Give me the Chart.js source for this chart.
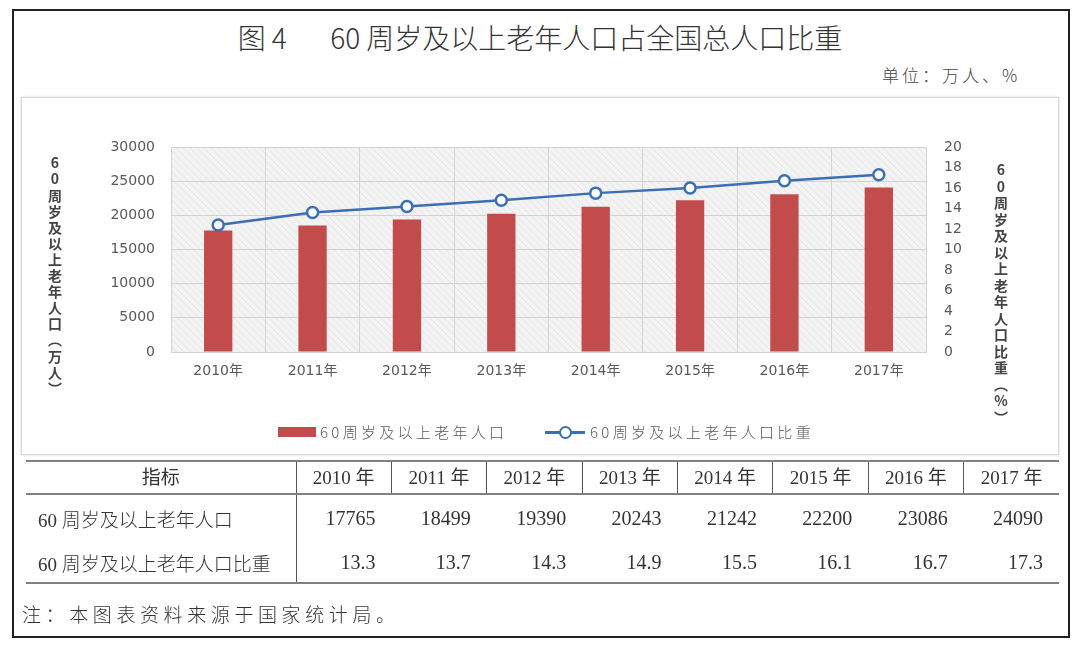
<!DOCTYPE html>
<html>
<head>
<meta charset="utf-8">
<script src="https://cdn.jsdelivr.net/npm/chart.js@4/dist/chart.umd.min.js"></script>
<style>
  html, body { margin:0; padding:0; background:#fff; }
  body { width:1080px; height:649px; position:relative; overflow:hidden;
         font-family:"Noto Sans CJK SC","DejaVu Sans",sans-serif; color:#333; }
  .abs { position:absolute; }
  #frame { left:12px; top:9px; width:1054px; height:625px; border:2px solid #222; }
  #panel { left:21px; top:97px; width:1036px; height:356px; border:1px solid #d6d6d6;
           box-shadow:0 0 3px rgba(0,0,0,0.12); background:#fff; }
  #chartBox { left:0; top:0; width:1080px; height:649px; }
  #title { left:0; top:17px; width:1080px; text-align:center; font-size:28px; font-weight:300; color:#333; white-space:pre; }
  #unit { left:882px; top:62px; font-size:17px; letter-spacing:3px; color:#444; font-weight:300; }
  .vtitle { writing-mode:vertical-rl; text-orientation:upright; font-size:14px; font-weight:bold;
            color:#444; line-height:14px; }
  #ltitle { left:48px; top:156px; letter-spacing:2.1px; }
  #rtitle { left:994px; top:163px; letter-spacing:2.5px; }
  .leg { font-size:15px; letter-spacing:3.3px; color:#595959; top:421px; white-space:nowrap; font-weight:300; }
  #legBox { left:278px; top:427px; width:38px; height:10px; background:#c24b4b; }
  #legLine { left:545px; top:431px; width:40px; height:2.5px; background:#3a6fb5; }
  #legDot { left:559px; top:426px; width:9px; height:9px; border:2px solid #3a6fb5; border-radius:50%; background:#fff; }
  table { border-collapse:collapse; table-layout:fixed; }
  #tbl { left:26px; top:460px; width:1033px; font-size:20px; color:#333;
         font-family:"Liberation Serif","Noto Sans CJK SC",serif; }
  #tbl td { padding:0; white-space:nowrap; }
  #tbl tr.h td { height:26px; padding-bottom:4px; border-top:2px solid #808080; border-bottom:2px solid #808080;
                 border-left:1px solid #555; text-align:center; font-size:19px; }
  #tbl tr.h td:first-child { border-left:none; font-family:"Noto Sans CJK SC",sans-serif; }
  #tbl tr.r1 td { height:47px; padding-bottom:4px; vertical-align:middle; }
  #tbl tr.r2 td { height:32px; padding-bottom:4px; border-bottom:2px solid #808080; vertical-align:middle; }
  #tbl td.lab { text-align:left; padding-left:12px; border-right:1px solid #555; font-size:19px; font-weight:300; }
  #tbl td.num { text-align:right; padding-right:16px; }
  #note { left:22px; top:600px; font-size:19px; letter-spacing:4.6px; color:#333; font-weight:300; }
</style>
</head>
<body>
<div id="frame" class="abs"></div>
<div id="panel" class="abs"></div>
<div id="title" class="abs">图 4       60 周岁及以上老年人口占全国总人口比重</div>
<div id="unit" class="abs">单位：万人、%</div>
<div id="chartBox" class="abs"><canvas id="c"></canvas></div>
<div id="ltitle" class="abs vtitle"></div>
<div id="rtitle" class="abs vtitle"></div>
<div id="legBox" class="abs"></div>
<div id="leg1" class="abs leg" style="left:320px"></div>
<div id="legLine" class="abs"></div>
<div id="legDot" class="abs"></div>
<div id="leg2" class="abs leg" style="left:590px"></div>
<table id="tbl" class="abs"></table>
<div id="note" class="abs">注：本图表资料来源于国家统计局。</div>
<script>
// ---- data ----
const categories = ['2010年','2011年','2012年','2013年','2014年','2015年','2016年','2017年'];
const tableYears = ['2010 年','2011 年','2012 年','2013 年','2014 年','2015 年','2016 年','2017 年'];
const population = [17765, 18499, 19390, 20243, 21242, 22200, 23086, 24090];
const shareLine = [12.4, 13.6, 14.2, 14.8, 15.5, 16.0, 16.7, 17.3];
const shareTable = ['13.3','13.7','14.3','14.9','15.5','16.1','16.7','17.3'];
const seriesNames = ['60周岁及以上老年人口', '60周岁及以上老年人口比重'];
const tableRowNames = ['60 周岁及以上老年人口', '60 周岁及以上老年人口比重'];
const leftAxisTitle = '60周岁及以上老年人口（万人）';
const rightAxisTitle = '60周岁及以上老年人口比重（%）';

document.getElementById('ltitle').textContent = leftAxisTitle;
document.getElementById('rtitle').textContent = rightAxisTitle;
document.getElementById('leg1').textContent = seriesNames[0];
document.getElementById('leg2').textContent = seriesNames[1];

// table
(function(){
  const t = document.getElementById('tbl');
  let html = '<colgroup><col style="width:270px">' + tableYears.map(()=>'<col>').join('') + '</colgroup>';
  html += '<tr class="h"><td>指标</td>' + tableYears.map(y=>'<td>'+y+'</td>').join('') + '</tr>';
  html += '<tr class="r1"><td class="lab">'+tableRowNames[0]+'</td>' + population.map(v=>'<td class="num">'+v+'</td>').join('') + '</tr>';
  html += '<tr class="r2"><td class="lab">'+tableRowNames[1]+'</td>' + shareTable.map(v=>'<td class="num">'+v+'</td>').join('') + '</tr>';
  t.innerHTML = html;
})();

// plot background with light hatching
const bgPlugin = {
  id: 'bg',
  beforeDraw(chart) {
    const {ctx, chartArea:a} = chart;
    const p = document.createElement('canvas');
    p.width = 7; p.height = 7;
    const pc = p.getContext('2d');
    pc.fillStyle = '#f3f3f3'; pc.fillRect(0,0,7,7);
    pc.strokeStyle = '#e6e6e6'; pc.lineWidth = 1;
    pc.beginPath(); pc.moveTo(0,0); pc.lineTo(7,7); pc.stroke();
    ctx.save();
    ctx.fillStyle = ctx.createPattern(p, 'repeat');
    ctx.fillRect(a.left, a.top, a.right - a.left, a.bottom - a.top);
    ctx.restore();
  }
};

const tickFont = { family: 'DejaVu Sans, Noto Sans CJK SC', size: 14 };
const gridColor = '#d3d3d3';
const plain = v => String(v);

new Chart(document.getElementById('c'), {
  type: 'bar',
  data: {
    labels: categories,
    datasets: [
      { type:'line', label: seriesNames[1], data: shareLine, yAxisID:'y1', order:0,
        borderColor:'#3a6fb5', borderWidth:2.5, backgroundColor:'#ffffff',
        pointRadius:5.5, pointBorderWidth:2.5, pointBorderColor:'#3a6fb5', pointBackgroundColor:'#ffffff',
        tension:0 },
      { type:'bar', label: seriesNames[0], data: population, yAxisID:'y', order:1,
        backgroundColor:'#c24b4b', barPercentage:0.3, categoryPercentage:1.0 }
    ]
  },
  options: {
    responsive:true, maintainAspectRatio:false, animation:false,
    layout: { padding: { top:147, left:0, right:0, bottom:0 } },
    plugins: { legend:{display:false}, tooltip:{enabled:false} },
    scales: {
      x: {
        grid: { color:gridColor, drawTicks:false, offset:true },
        border: { color:gridColor },
        ticks: { color:'#595959', font: tickFont, padding:11, maxRotation:0 },
        afterFit(s){ s.height = 649 - 352; }
      },
      y: {
        position:'left', min:0, max:30000,
        grid: { color:gridColor, drawTicks:false },
        border: { color:gridColor },
        ticks: { stepSize:5000, color:'#595959', font: tickFont, padding:16, callback: plain },
        afterFit(s){ s.width = 171; }
      },
      y1: {
        position:'right', min:0, max:20,
        grid: { display:false, drawTicks:false },
        border: { color:gridColor },
        ticks: { stepSize:2, color:'#595959', font: tickFont, padding:18, callback: plain },
        afterFit(s){ s.width = 1080 - 926; }
      }
    }
  },
  plugins: [bgPlugin]
});
</script>
</body>
</html>
